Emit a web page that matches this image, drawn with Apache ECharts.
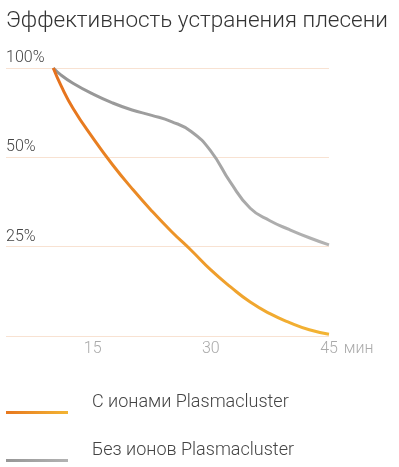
<!DOCTYPE html>
<html>
<head>
<meta charset="utf-8">
<script src="https://cdn.jsdelivr.net/npm/echarts@6/dist/echarts.min.js"></script>
<style>
  html, body { margin: 0; padding: 0; background: #fff; }
  #chart { width: 399px; height: 467px; }
</style>
</head>
<body>
<div id="chart"></div>
<script>
// время, мин
var minutes = [10, 11, 12.5, 15, 17.5, 20, 22.5, 25, 27.5, 30, 32.5, 35, 37.5, 40, 42.5, 45];
// уровень на шкале: 0 = 0, 1 = 25%, 2 = 50%, 3 = 100%
var withIons = [3.0, 2.80, 2.55, 2.22, 1.92, 1.65, 1.40, 1.17, 0.96, 0.74, 0.55, 0.38, 0.25, 0.15, 0.07, 0.02];
var withoutIons = [3.0, 2.92, 2.83, 2.71, 2.61, 2.53, 2.47, 2.40, 2.29, 2.07, 1.72, 1.43, 1.29, 1.19, 1.10, 1.02];
var yLabels = ['', '25%', '50%', '100%'];
var xLabels = [15, 30, 45];
var seriesNames = ['С ионами Plasmacluster', 'Без ионов Plasmacluster'];

function pairs(vals) {
    return minutes.map(function (m, i) { return [m, vals[i]]; });
}

var orange = new echarts.graphic.LinearGradient(0, 0, 1, 1, [
    { offset: 0, color: '#e56f1c' },
    { offset: 1, color: '#f3b534' }
]);
var grey = new echarts.graphic.LinearGradient(0, 0, 1, 1, [
    { offset: 0, color: '#939393' },
    { offset: 1, color: '#b3b3b3' }
]);

var myChart = echarts.init(document.getElementById('chart'), null, { renderer: 'canvas' });
var option = {
    animation: false,
    title: {
        text: 'Эффективность устранения плесени',
        left: 1,
        top: 5,
        textStyle: {
            fontFamily: 'Roboto',
            fontWeight: 300,
            fontSize: 22.5,
            color: '#333'
        }
    },
    legend: {
        orient: 'vertical',
        left: 6,
        top: 390,
        padding: 0,
        itemWidth: 62,
        itemHeight: 24,
        itemGap: 24,
        selectedMode: false,
        icon: 'path://M0,0M0,21h62v3H0z',
        itemStyle: { borderWidth: 0 },
        textStyle: {
            fontFamily: 'Roboto',
            fontWeight: 300,
            fontSize: 18,
            color: '#444',
            padding: [0, 0, 0, 19]
        },
        data: seriesNames
    },
    grid: {
        left: 6,
        right: 70,
        top: 68,
        bottom: 131,
        containLabel: false
    },
    xAxis: {
        type: 'value',
        min: 4,
        max: 45,
        name: 'мин',
        nameLocation: 'end',
        nameGap: 5,
        nameTextStyle: {
            fontFamily: 'Roboto',
            fontWeight: 300,
            fontSize: 16,
            color: '#aaa',
            align: 'left',
            verticalAlign: 'top',
            padding: [5, 0, 0, 0]
        },
        axisLine: { show: false },
        axisTick: { show: false },
        splitLine: { show: false },
        axisLabel: {
            customValues: xLabels,
            margin: 5,
            fontFamily: 'Roboto',
            fontWeight: 300,
            fontSize: 16,
            color: '#aaa'
        }
    },
    yAxis: {
        type: 'value',
        min: 0,
        max: 3,
        interval: 1,
        axisLine: { show: false },
        axisTick: { show: false },
        splitLine: {
            show: true,
            lineStyle: { color: '#f8e2d2', width: 1 }
        },
        axisLabel: {
            inside: true,
            margin: 0,
            verticalAlign: 'bottom',
            padding: [0, 0, 2, 0],
            fontFamily: 'Roboto',
            fontWeight: 300,
            fontSize: 16,
            color: '#444',
            formatter: function (v) { return yLabels[v] || ''; }
        }
    },
    series: [
        {
            name: seriesNames[1],
            type: 'line',
            smooth: 0.5,
            showSymbol: false,
            data: pairs(withoutIons),
            itemStyle: { color: grey },
            lineStyle: { color: grey, width: 3 },
            z: 2
        },
        {
            name: seriesNames[0],
            type: 'line',
            smooth: 0.5,
            showSymbol: false,
            data: pairs(withIons),
            itemStyle: { color: orange },
            lineStyle: { color: orange, width: 3 },
            z: 3
        }
    ]
};
myChart.setOption(option);
</script>
</body>
</html>
